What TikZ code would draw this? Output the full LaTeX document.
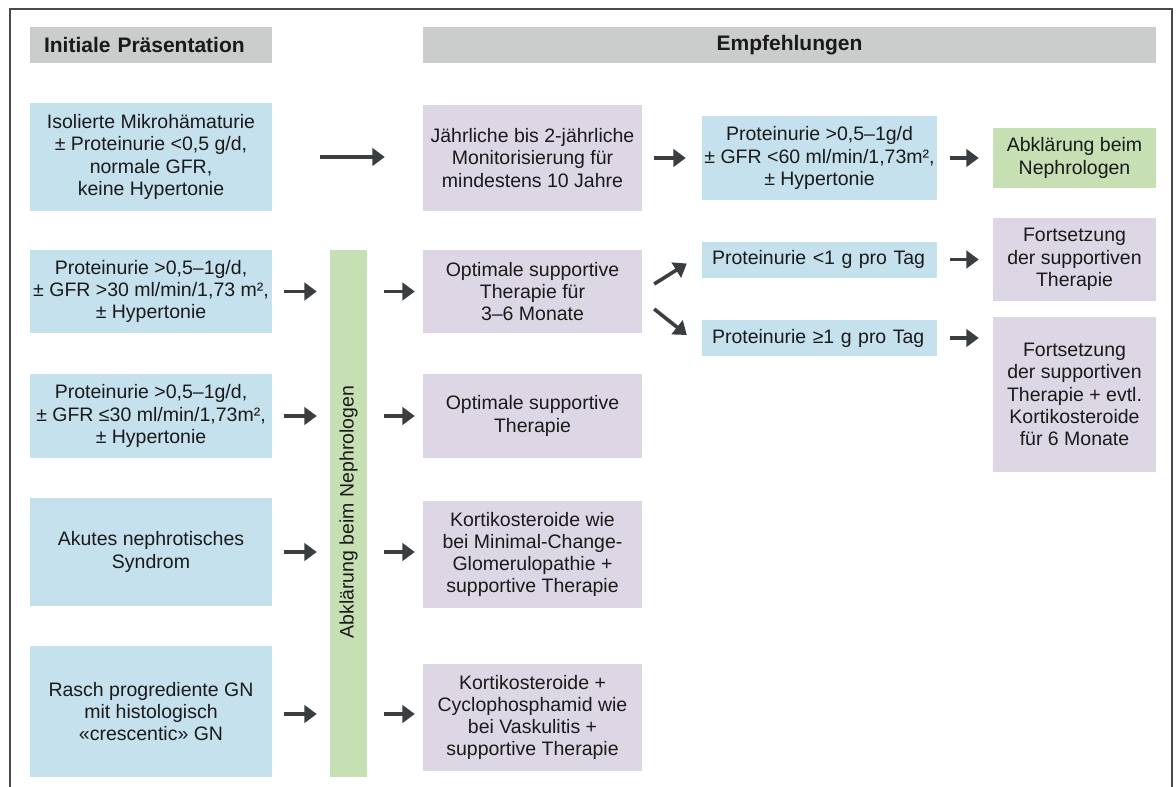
\documentclass[tikz,border=0pt]{standalone}
\usepackage{fontspec}
\setmainfont{Liberation Sans}
\usetikzlibrary{arrows.meta}
\definecolor{hdr}{HTML}{CBCCCC}
\definecolor{bluef}{HTML}{C5E1EE}
\definecolor{purf}{HTML}{DDD6E5}
\definecolor{grnf}{HTML}{C6DFB3}
\definecolor{arrc}{HTML}{3A3E41}
\definecolor{txt}{HTML}{1A1A1A}
\definecolor{frm}{HTML}{4A4A4A}
\begin{document}
\begin{tikzpicture}[x=1pt,y=1pt,
  box/.style={inner sep=0pt, align=center, text=txt, font=\fontsize{19.5}{22.3}\selectfont},
  sz/.style 2 args={minimum width=#1pt, minimum height=#2pt},
  bluebox/.style={box, fill=bluef},
  purbox/.style={box, fill=purf},
  grnbox/.style={box, fill=grnf},
  hdrbox/.style={inner xsep=14pt, inner ysep=0pt, fill=hdr, text=txt, font=\fontsize{21}{24}\selectfont\bfseries},
  arr/.style={draw=arrc, line width=3.6pt, -{Triangle[length=12.5pt,width=17.5pt]}}
]
\useasboundingbox (0,0) rectangle (1176,-787);
\draw[frm, line width=1.2pt] (10,-787) -- (10,-9) -- (1172,-9) -- (1172,-787);

% headers
\node[hdrbox, text width=214pt, align=left, minimum height=36pt] (h1) at (151,-45) {Initiale Präsentation};
\node[hdrbox, text width=705pt, align=center, minimum height=36pt] (h2) at (789.5,-45) {Empfehlungen};

% left column
\node[bluebox, sz={242}{108}] (a1) at (151,-157) {Isolierte Mikrohämaturie\\± Proteinurie <0,5 g/d,\\normale GFR,\\keine Hypertonie};
\node[bluebox, sz={242}{83}] (a2) at (151,-291.5) {Proteinurie >0,5–1g/d,\\± GFR >30 ml/min/1,73 m²,\\± Hypertonie};
\node[bluebox, sz={242}{84}] (a3) at (151,-416) {Proteinurie >0,5–1g/d,\\± GFR ≤30 ml/min/1,73m²,\\± Hypertonie};
\node[bluebox, sz={242}{108}] (a4) at (151,-552) {Akutes nephrotisches\\Syndrom};
\node[bluebox, sz={242}{131}] (a5) at (151,-711.5) {Rasch progrediente GN\\mit histologisch\\«crescentic» GN};

% vertical bar
\node[grnbox, sz={37}{527}] (bar) at (348.5,-513.5) {};
\node[box, rotate=90] (bartxt) at ([yshift=1.5pt]bar.center) {Abklärung beim Nephrologen};

% middle column
\node[purbox, sz={219}{106}] (p1) at (532.5,-158) {Jährliche bis 2-jährliche\\Monitorisierung für\\mindestens 10 Jahre};
\node[purbox, sz={219}{83}] (p2) at (532.5,-291.5) {Optimale supportive\\Therapie für\\3–6 Monate};
\node[purbox, sz={219}{84}] (p3) at (532.5,-416) {Optimale supportive\\Therapie};
\node[purbox, sz={219}{107}] (p4) at (532.5,-554.5) {Kortikosteroide wie\\bei Minimal-Change-\\Glomerulopathie +\\supportive Therapie};
\node[purbox, sz={219}{107}] (p5) at (532.5,-717.5) {Kortikosteroide +\\Cyclophosphamid wie\\bei Vaskulitis +\\supportive Therapie};

% third column
\node[bluebox, sz={235}{84}] (b1) at (819.5,-158) {Proteinurie >0,5–1g/d\\± GFR <60 ml/min/1,73m²,\\± Hypertonie};
\node[bluebox, sz={235}{36}, text width=215pt, align=left, inner xsep=10pt] (s1) at (819.5,-259.5) {\mbox{Proteinurie <1 g pro Tag}};
\node[bluebox, sz={235}{36}, text width=215pt, align=left, inner xsep=10pt] (s2) at (819.5,-338) {\mbox{Proteinurie ≥1 g pro Tag}};

% fourth column
\node[grnbox, sz={163}{60}] (g1) at (1074.5,-158) {Abklärung beim\\Nephrologen};
\node[purbox, sz={163}{83}] (f1) at (1074.5,-259.5) {Fortsetzung\\der supportiven\\Therapie};
\node[purbox, sz={163}{155}] (f2) at (1074.5,-394.5) {Fortsetzung\\der supportiven\\Therapie + evtl.\\Kortikosteroide\\für 6 Monate};

% arrows
\draw[arr, shorten <=48pt, shorten >=38pt] (a1.east) -- (a1.east -| p1.west);
\draw[arr, shorten <=12pt, shorten >=16pt] (p1.east) -- (p1.east -| b1.west);
\draw[arr, shorten <=13pt, shorten >=14pt] (b1.east) -- (b1.east -| g1.west);
\draw[arr, shorten <=12pt, shorten >=13pt] (a2.east) -- (a2.east -| bar.west);
\draw[arr, shorten <=12pt, shorten >=13pt] (a3.east) -- (a3.east -| bar.west);
\draw[arr, shorten <=12pt, shorten >=13pt] (a4.east) -- (a4.east -| bar.west);
\draw[arr, shorten <=12pt, shorten >=13pt] ([yshift=-2.5pt]a5.east) -- ([yshift=-2.5pt]a5.east -| bar.west);
\draw[arr, shorten <=17pt, shorten >=8pt] (bar.east |- p2.west) -- (p2.west);
\draw[arr, shorten <=17pt, shorten >=8pt] (bar.east |- p3.west) -- (p3.west);
\draw[arr, shorten <=17pt, shorten >=8pt] (bar.east |- a4.east) -- (a4.east -| p4.west);
\draw[arr, shorten <=17pt, shorten >=8pt] ([yshift=-2.5pt]bar.east |- a5.east) -- ([yshift=-2.5pt]a5.east -| p5.west);
\draw[arr] ([shift={(12,7.5)}]p2.east) -- ([shift={(-15,-4)}]s1.west);
\draw[arr] ([shift={(12,-17.5)}]p2.east) -- ([shift={(-15,3)}]s2.west);
\draw[arr, shorten <=13pt, shorten >=14pt] (s1.east) -- (s1.east -| f1.west);
\draw[arr, shorten <=13pt, shorten >=14pt] (s2.east) -- (s2.east -| f2.west);
\end{tikzpicture}
\end{document}
